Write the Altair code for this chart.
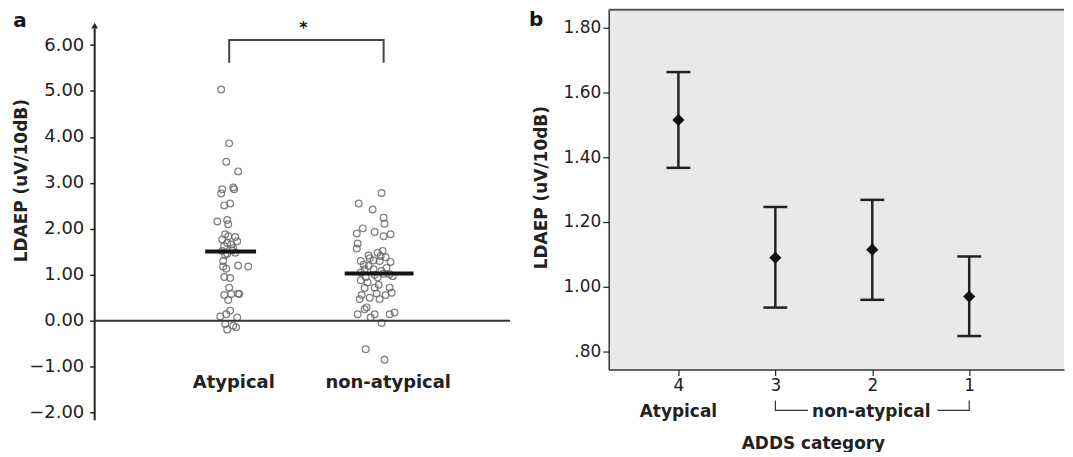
import altair as alt
import pandas as pd

FONT = "DejaVu Sans"
INK = "#222222"

# ---------------- Panel a: individual LDAEP values ----------------
atyp_x = [0.948, 1.000, 0.981, 1.058, 0.955, 0.948, 1.026, 1.032, 0.968, 1.006,
          0.923, 0.987, 0.994, 0.974, 0.994, 0.955, 1.039, 0.987, 1.013, 1.026,
          0.987, 1.039, 0.974, 0.961, 1.058, 1.123, 0.961, 0.981, 0.968, 1.006,
          1.000, 0.968, 1.013, 1.058, 0.994, 1.065, 1.006, 0.942, 1.052, 0.981,
          0.974, 1.026, 1.045, 0.987, 1.019, 0.968, 1.052, 0.955]
atyp_y = [5.03, 3.86, 3.46, 3.25, 2.86, 2.77, 2.90, 2.86, 2.51, 2.55,
          2.16, 2.19, 2.10, 1.88, 1.84, 1.77, 1.82, 1.69, 1.66, 1.58,
          1.46, 1.48, 1.43, 1.30, 1.20, 1.18, 1.18, 1.13, 0.95, 0.93,
          0.72, 0.56, 0.58, 0.59, 0.45, 0.58, 0.22, 0.09, 0.07, 0.14,
          -0.07, -0.11, -0.14, -0.19, 1.53, 1.62, 1.73, 1.52]

non_x = [1.987, 1.839, 1.929, 2.000, 2.006, 1.865, 1.826, 1.942, 2.000, 2.045,
         1.832, 1.826, 1.903, 1.961, 1.994, 1.981, 1.852, 1.935, 1.974, 2.045,
         1.903, 1.877, 1.935, 2.019, 1.852, 2.039, 1.961, 2.058, 2.000, 1.942,
         1.852, 1.897, 1.877, 1.942, 2.039, 2.052, 1.955, 2.013, 1.858, 1.910,
         1.845, 1.974, 1.890, 1.832, 1.942, 2.039, 2.071, 1.916, 1.877, 1.987,
         1.884, 2.006, 1.910, 2.013, 1.871, 1.987, 1.884, 1.968]
non_y = [2.78, 2.55, 2.42, 2.24, 2.11, 2.01, 1.90, 1.93, 1.84, 1.88,
         1.68, 1.57, 1.42, 1.48, 1.52, 1.41, 1.30, 1.31, 1.30, 1.28,
         1.19, 1.12, 1.12, 1.15, 1.05, 1.01, 0.94, 0.97, 1.02, 1.00,
         0.88, 0.83, 0.71, 0.72, 0.72, 0.61, 0.59, 0.56, 0.56, 0.50,
         0.47, 0.47, 0.29, 0.14, 0.14, 0.14, 0.18, 0.07, 0.25, -0.05,
         -0.62, -0.85, 1.36, 1.38, 1.22, 1.08, 0.95, 0.78]

group_names = ["Atypical", "non-atypical"]
group_pos = [1.0, 2.0]
group_means = [1.505, 1.03]
mean_x_start = [0.845, 1.748]
mean_x_end = [1.174, 2.194]
a_ticks = [-2, -1, 0, 1, 2, 3, 4, 5, 6]

# ---------------- Panel b: mean and CI by ADDS category ----------------
adds_cat = ["4", "3", "2", "1"]
adds_pos = [0, 1, 2, 3]
adds_mean = [1.515, 1.089, 1.114, 0.969]
adds_upper = [1.663, 1.246, 1.268, 1.093]
adds_lower = [1.367, 0.935, 0.959, 0.847]
b_ticks = [0.8, 1.0, 1.2, 1.4, 1.6, 1.8]

# ---------------- scales and axes ----------------
XA = [0.129, 2.819]
YA = [-2.167, 6.766]
XB = [-0.719, 3.978]
YB = [0.7437, 1.8554]
sxa = alt.Scale(domain=XA, nice=False, zero=False)
sya = alt.Scale(domain=YA, nice=False, zero=False)
sxb = alt.Scale(domain=XB, nice=False, zero=False)
syb = alt.Scale(domain=YB, nice=False, zero=False)

axis_ya = alt.Axis(
    values=a_ticks, format=".2f", title="LDAEP (uV/10dB)", domain=False, grid=False,
    tickSize=5, tickWidth=1.5, tickColor=INK, labelFont=FONT, labelFontSize=18,
    labelColor=INK, labelPadding=6, titleFont=FONT, titleFontSize=17,
    titleFontWeight="bold", titleColor=INK, titleX=-73, titleY=171, titleAngle=270,
    titleBaseline="middle", titleAlign="center")

axis_xb = alt.Axis(
    values=adds_pos, labelExpr="['4','3','2','1'][datum.value]", grid=False,
    domainColor="#333333", domainWidth=1.5, tickColor=INK, tickSize=6, tickWidth=1.2,
    labelFont=FONT, labelFontSize=17, labelColor=INK, labelPadding=2,
    title="ADDS category", titleFont=FONT, titleFontSize=17, titleFontWeight="bold",
    titleColor=INK, titleX=205, titleY=74, titleBaseline="middle", titleAlign="center")

axis_yb = alt.Axis(
    values=b_ticks,
    labelExpr="datum.value < 1 ? slice(format(datum.value, '.2f'), 1) : format(datum.value, '.2f')",
    grid=False, domainColor="#333333", domainWidth=1.5, tickColor=INK, tickSize=6,
    tickWidth=1.2, labelFont=FONT, labelFontSize=17, labelColor=INK, labelPadding=2,
    title="LDAEP (uV/10dB)", titleFont=FONT, titleFontSize=17, titleFontWeight="bold",
    titleColor=INK, titleX=-67, titleY=178, titleAngle=270, titleBaseline="middle",
    titleAlign="center")


def xa(f):
    return alt.X(f, type="quantitative", scale=sxa, axis=None)


def ya(f):
    return alt.Y(f, type="quantitative", scale=sya, axis=axis_ya)


def xb(f):
    return alt.X(f, type="quantitative", scale=sxb, axis=axis_xb)


def yb(f):
    return alt.Y(f, type="quantitative", scale=syb, axis=axis_yb)


# ---- panel a layers ----
pts = pd.DataFrame({"x": atyp_x + non_x, "y": atyp_y + non_y})
points = alt.Chart(pts).mark_point(
    shape="circle", size=46, strokeWidth=1.2, filled=False, color="#6a6a6a", opacity=0.85
).encode(x=xa("x"), y=ya("y"))

axis_df = pd.DataFrame({"x": [XA[0]], "y0": [YA[0]], "y1": [6.36], "ya": [6.42]})
axis_line = alt.Chart(axis_df).mark_rule(color=INK, strokeWidth=2).encode(
    x=xa("x"), y=ya("y0"), y2="y1")
arrow = alt.Chart(axis_df).mark_point(shape="triangle-up", filled=True, size=45,
                                      color=INK, opacity=1).encode(x=xa("x"), y=ya("ya"))

zero_df = pd.DataFrame({"x0": [XA[0]], "x1": [XA[1]], "y": [0.0]})
zero_line = alt.Chart(zero_df).mark_rule(color="#333333", strokeWidth=2).encode(
    x=xa("x0"), x2="x1", y=ya("y"))

mean_df = pd.DataFrame({"x0": mean_x_start, "x1": mean_x_end, "y": group_means})
means = alt.Chart(mean_df).mark_rule(color="#151515", strokeWidth=4).encode(
    x=xa("x0"), x2="x1", y=ya("y"))

br_df = pd.DataFrame({"x": [1.0, 1.0, 2.0, 2.0], "y": [5.617, 6.108, 6.108, 5.617],
                      "o": [0, 1, 2, 3]})
bracket = alt.Chart(br_df).mark_line(color="#444444", strokeWidth=2).encode(
    x=xa("x"), y=ya("y"), order="o:Q")

star_df = pd.DataFrame({"x": [1.48], "y": [6.38], "t": ["*"]})
star = alt.Chart(star_df).mark_text(fontSize=16, fontWeight="bold", color="#111111",
                                    font=FONT).encode(
    x=xa("x"), y=ya("y"), text="t:N")

lab_df = pd.DataFrame({"x": [p + 0.03 for p in group_pos], "y": [-1.364, -1.364],
                       "t": group_names})
cat_labels = alt.Chart(lab_df).mark_text(fontSize=18, fontWeight="bold", color=INK,
                                         font=FONT, baseline="middle").encode(
    x=xa("x"), y=ya("y"), text="t:N")

let_a = alt.Chart(pd.DataFrame({"t": ["a"]})).mark_text(
    fontSize=20, fontWeight="bold", color="#111", font=FONT, baseline="middle"
).encode(x=alt.value(-75), y=alt.value(11), text="t:N")

panel_a = alt.layer(points, axis_line, arrow, zero_line, means, bracket, star,
                    cat_labels, let_a).properties(
    width=417, height=412,
    view=alt.ViewBackground(strokeWidth=0, stroke="transparent"))

# ---- panel b layers ----
bdf = pd.DataFrame({"pos": adds_pos, "cat": adds_cat, "mean": adds_mean,
                    "hi": adds_upper, "lo": adds_lower})
bars = alt.Chart(bdf).mark_rule(color=INK, strokeWidth=2.5).encode(
    x=xb("pos"), y=yb("lo"), y2="hi")
cap_hi = alt.Chart(bdf).mark_tick(orient="horizontal", size=24, thickness=2.5,
                                  color=INK, opacity=1).encode(x=xb("pos"), y=yb("hi"))
cap_lo = alt.Chart(bdf).mark_tick(orient="horizontal", size=24, thickness=2.5,
                                  color=INK, opacity=1).encode(x=xb("pos"), y=yb("lo"))
diam = alt.Chart(bdf).mark_point(shape="diamond", filled=True, size=150, color="#111",
                                 opacity=1).encode(x=xb("pos"), y=yb("mean"))

top_df = pd.DataFrame({"x0": [XB[0]], "x1": [XB[1]], "y": [YB[1]]})
top_border = alt.Chart(top_df).mark_rule(color="#555555", strokeWidth=2).encode(
    x=xb("x0"), x2="x1", y=yb("y"))

blab_df = pd.DataFrame({"x": [0.0, 1.99], "y": [0.611, 0.611], "t": group_names})
b_labels = alt.Chart(blab_df).mark_text(fontSize=17, fontWeight="bold", color=INK,
                                        font=FONT, baseline="middle").encode(
    x=xb("x"), y=yb("y"), text="t:N")

bb_df = pd.DataFrame({
    "x": [1.0, 1.0, 1.336, 2.672, 3.0, 3.0],
    "y": [0.648, 0.617, 0.617, 0.617, 0.617, 0.648],
    "g": ["l", "l", "l", "r", "r", "r"],
    "o": [0, 1, 2, 0, 1, 2],
})
b_bracket = alt.Chart(bb_df).mark_line(color="#333333", strokeWidth=1.2).encode(
    x=xb("x"), y=yb("y"), detail="g:N", order="o:Q")

let_b = alt.Chart(pd.DataFrame({"t": ["b"]})).mark_text(
    fontSize=20, fontWeight="bold", color="#111", font=FONT, baseline="middle"
).encode(x=alt.value(-73), y=alt.value(10), text="t:N")

panel_b = alt.layer(bars, cap_hi, cap_lo, diam, top_border, b_labels, b_bracket,
                    let_b).properties(
    width=457, height=361,
    view=alt.ViewBackground(fill="#e9e9eb", strokeWidth=0, stroke="transparent"))

chart = alt.hconcat(panel_a, panel_b, spacing=17).properties(
    padding={"left": 5, "top": 0, "right": 0, "bottom": 0}
).configure_view(strokeWidth=0).configure(font=FONT)

chart.save("out.html", embed_options={"renderer": "svg", "actions": False})
